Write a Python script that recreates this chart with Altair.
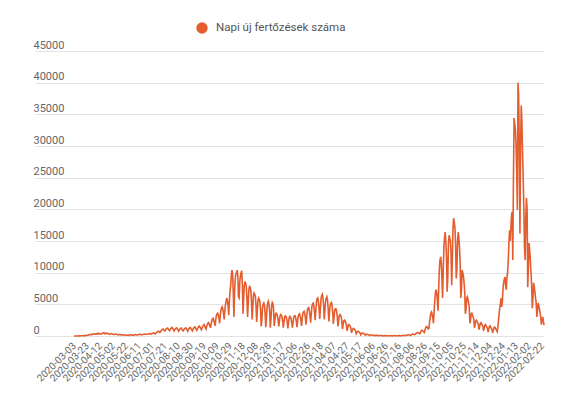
import altair as alt
import pandas as pd

tick_labels = [
    "2020-03-03", "2020-03-23", "2020-04-12", "2020-05-02", "2020-05-22", "2020-06-11",
    "2020-07-01", "2020-07-21", "2020-08-10", "2020-08-30", "2020-09-19", "2020-10-09",
    "2020-10-29", "2020-11-18", "2020-12-08", "2020-12-28", "2021-01-17", "2021-02-06",
    "2021-02-26", "2021-03-18", "2021-04-07", "2021-04-27", "2021-05-17", "2021-06-06",
    "2021-06-26", "2021-07-16", "2021-08-06", "2021-08-26", "2021-09-15", "2021-10-05",
    "2021-10-25", "2021-11-14", "2021-12-04", "2021-12-24", "2022-01-13", "2022-02-02",
    "2022-02-22",
]

y_ticks = [0, 5000, 10000, 15000, 20000, 25000, 30000, 35000, 40000, 45000]

spring_2020 = [
    2, 3, 3, 4, 6, 9, 9,
    15, 15, 25, 30, 40, 45, 50,
    40, 60, 80, 60, 70, 80, 110,
    120, 150, 180, 200, 230, 250, 200,
    260, 300, 320, 350, 280, 300, 330,
    360, 300, 420, 350, 390, 300, 280,
    330, 380, 420, 480, 520, 380, 350,
    400, 450, 380, 420, 350, 300, 260,
    300, 350, 380, 300, 270, 240, 230,
    260, 280, 300, 250, 200, 190, 210,
    220, 230, 200, 180, 160, 140, 150,
    170, 180, 160, 140, 130, 120, 110,
    120, 150, 170, 160, 180, 130, 120,
    140, 160, 180, 200, 210, 180, 170,
    190, 210, 230, 250, 260, 220, 200,
    220, 250, 270, 300, 310, 260, 240,
    260, 300, 330, 350, 370, 300, 280,
    330, 380, 420, 450, 480, 400, 360,
]

summer_2020 = [
    450, 550, 650, 700, 750, 650, 550,
    650, 850, 950, 1050, 1100, 950, 850,
    800, 1000, 1150, 1200, 1250, 1100, 950,
    850, 1050, 1200, 1300, 1350, 1150, 1000,
    800, 1000, 1150, 1250, 1300, 1100, 950,
    750, 950, 1100, 1200, 1250, 1050, 900,
    800, 1000, 1150, 1250, 1300, 1100, 950,
    750, 1000, 1200, 1300, 1350, 1150, 1000,
    800, 1050, 1250, 1400, 1450, 1250, 1050,
    900, 1150, 1350, 1500, 1550, 1350, 1150,
    1000, 1300, 1500, 1700, 1800, 1600, 1300,
    1100, 1500, 1800, 2000, 2100, 1900, 1600,
]

autumn_2020 = [
    1300, 1900, 2400, 2700, 2800, 2500, 2100,
    1600, 2500, 3200, 3500, 3600, 3300, 2800,
    2000, 3300, 4000, 4400, 4600, 4200, 3600,
    2600, 4000, 5000, 5500, 6000, 5600, 4800,
    3300, 5500, 7000, 8000, 9500, 10400, 9800,
    7000, 3000, 7000, 9000, 9800, 10000, 10400,
    9500, 6200, 6000, 8500, 9500, 10000, 10300,
    8000, 3500, 6000, 8000, 8600, 8300, 7800,
    6000, 3000, 5200, 7300, 7800, 7700, 7200,
    5500, 2600, 4500, 6400, 6800, 6600, 6200,
    4800, 2200, 4000, 5600, 6000, 5800, 5400,
    4000, 1500, 2500, 4500, 5000, 5200, 4800,
    3500, 1400, 2800, 4600, 5200, 5500, 5000,
    3800, 1300, 2600, 4800, 5300, 5100, 4200,
]

spring_2021 = [
    1600, 2500, 3400, 3600, 3500, 3100, 2500,
    1500, 2400, 3200, 3400, 3300, 3000, 2400,
    1300, 2200, 3000, 3200, 3100, 2800, 2200,
    1200, 2100, 2900, 3100, 3000, 2700, 2100,
    1300, 2200, 3000, 3200, 3200, 2900, 2300,
    1400, 2400, 3200, 3400, 3500, 3100, 2500,
    1600, 2700, 3600, 3800, 3900, 3500, 2800,
    1800, 3000, 4100, 4400, 4500, 4000, 3200,
    2100, 3500, 4700, 5100, 5200, 4700, 3700,
    2500, 4000, 5400, 5900, 6000, 5400, 4300,
    2700, 4300, 5900, 6400, 6600, 6000, 4700,
    2600, 4100, 5500, 6000, 6200, 5600, 4300,
    2300, 3600, 4800, 5200, 5300, 4800, 3700,
    1900, 3000, 4000, 4300, 4300, 3900, 3000,
    1500, 2400, 3200, 3400, 3300, 3000, 2300,
    1100, 1800, 2400, 2500, 2400, 2100, 1700,
    800, 1300, 1700, 1800, 1700, 1500, 1200,
    500, 900, 1100, 1200, 1100, 1000, 800,
    350, 550, 700, 750, 700, 600, 500,
    200, 350, 450, 450, 400, 350, 300,
]

summer_2021 = [
    130, 200, 250, 250, 230, 200, 170,
    80, 130, 150, 150, 140, 120, 100,
    60, 90, 100, 110, 100, 90, 70,
    40, 70, 80, 80, 70, 60, 50,
    30, 50, 60, 60, 55, 50, 40,
    25, 40, 50, 50, 45, 40, 35,
    25, 40, 50, 55, 50, 45, 35,
    30, 50, 60, 60, 55, 50, 40,
    40, 70, 90, 100, 95, 85, 70,
    70, 120, 160, 180, 170, 150, 120,
    110, 200, 260, 290, 280, 250, 200,
    250, 400, 500, 550, 520, 480, 400,
    350, 600, 800, 900, 850, 780, 650,
    550, 1000, 1300, 1500, 1450, 1300, 1100,
]

autumn_2021 = [
    1200, 2200, 3000, 3600, 3800, 3400, 2800,
    2000, 4000, 5600, 6900, 7300, 6800, 5500,
    4000, 7500, 10500, 12000, 12500, 11500, 9000,
    6000, 10400, 14000, 15500, 16400, 15000, 12500,
    7000, 9300, 14500, 15900, 15500, 15000, 13000,
    8000, 12000, 17000, 18600, 18000, 17000, 14500,
    9100, 10500, 15000, 16400, 15500, 14000, 11500,
    6000, 7300, 10400, 10000, 9500, 8500, 7000,
    3500, 4100, 6000, 6200, 5800, 5200, 4500,
    2000, 2500, 3500, 3600, 3300, 3000, 2600,
    1300, 1800, 2400, 2500, 2300, 2100, 1800,
    1000, 1500, 2000, 2100, 1900, 1700, 1500,
    800, 1300, 1700, 1800, 1600, 1400, 1200,
    600, 1100, 1500, 1600, 1400, 1200, 1000,
    500, 900, 1300, 1400, 1300, 1100, 900,
]

winter_2022 = [
    700, 1400, 2500, 3500, 4500, 5200, 6000,
    4600, 5500, 7500, 8500, 9000, 9300, 8000,
    7300, 9300, 10000, 12000, 14500, 16700, 15000,
    17000, 19000, 19600, 12000, 25000, 34400, 33500,
    32500, 30000, 26000, 19900, 40000, 38000, 30000,
    16200, 30000, 36400, 34000, 29000, 25000, 20000,
    14000, 12000, 19000, 21800, 20000, 7700, 11000,
    14700, 13500, 12000, 10000, 8000, 4400, 6000,
    8400, 7800, 7000, 6000, 5200, 3000, 4000,
    5200, 4800, 4300, 3600, 3000, 1800, 2500,
    3000, 2400, 1700,
]

values = spring_2020 + summer_2020 + autumn_2020 + spring_2021 + summer_2021 + autumn_2021 + winter_2022
series_name = "Napi új fertőzések száma"

df = pd.DataFrame({
    "idx": list(range(len(values))),
    "value": values,
    "series": [series_name] * len(values),
})

label_js = "[" + ",".join("'" + s + "'" for s in tick_labels) + "]"
line_color = "#E35D2F"
last_idx = len(values) - 1

chart = alt.Chart(df).mark_line(strokeWidth=1.6, color=line_color).encode(
    x=alt.X(
        "idx:Q",
        scale=alt.Scale(domain=[-60, last_idx], nice=False, zero=False),
        axis=alt.Axis(
            values=[20 * k for k in range(len(tick_labels))],
            labelExpr=label_js + "[round(datum.value/20)]",
            labelAngle=-45, labelAlign="right", labelBaseline="middle",
            labelPadding=8, grid=False, domain=False, ticks=False,
            labelFontSize=10, labelColor="#666666", title=None, labelOverlap=False,
        ),
    ),
    y=alt.Y(
        "value:Q",
        scale=alt.Scale(domain=[0, 45000], nice=False),
        axis=alt.Axis(
            values=y_ticks, format="d", labelAlign="left", labelBaseline="alphabetic",
            labelOffset=-3, labelPadding=2, ticks=False, tickSize=0, domain=False,
            gridColor="#e2e2e2", labelFontSize=11, labelColor="#666666", title=None,
        ),
    ),
    color=alt.Color(
        "series:N",
        scale=alt.Scale(range=[line_color]),
        legend=alt.Legend(
            title=None, orient="none", legendX=161, legendY=-29,
            symbolType="circle", symbolSize=130, symbolFillColor=line_color,
            symbolStrokeWidth=0, labelFontSize=11.5, labelColor="#555555", labelOffset=8,
        ),
    ),
).properties(
    width=509, height=285,
    padding={"left": 27, "top": 43, "right": 23, "bottom": 50},
    autosize="none",
).configure_axis(
    labelFont="Roboto"
).configure_legend(
    labelFont="Roboto"
).configure_view(stroke=None)

chart.save("out.html", embed_options={"renderer": "svg", "actions": False})
